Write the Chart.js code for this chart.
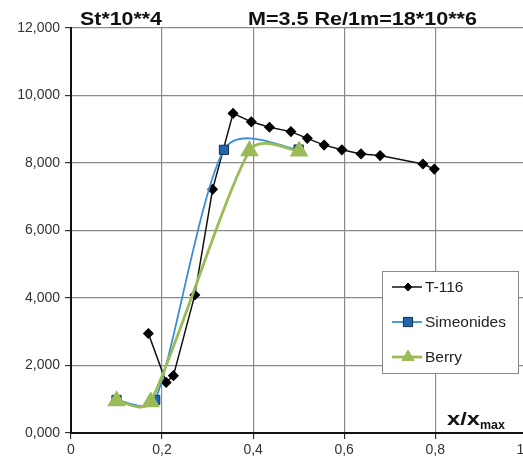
<!DOCTYPE html>
<html>
<head>
<meta charset="utf-8">
<script src="https://cdn.jsdelivr.net/npm/chart.js@4.4.1/dist/chart.umd.min.js"></script>
<style>
  html, body { margin: 0; padding: 0; background: #fff; overflow: hidden; }
  canvas { display: block; }
</style>
</head>
<body>
<canvas id="chart" width="539" height="459"></canvas>
<script>
// Données (St*10**4 en fonction de x/xmax)
const t116X = [0.170, 0.209, 0.225, 0.272, 0.311, 0.356, 0.396, 0.436, 0.483, 0.519, 0.556, 0.595, 0.637, 0.679, 0.773, 0.798];
const t116Y = [2.95, 1.50, 1.70, 4.09, 7.22, 9.47, 9.22, 9.06, 8.93, 8.73, 8.53, 8.39, 8.27, 8.22, 7.97, 7.82];

const simeonidesX = [0.100, 0.185, 0.336, 0.500];
const simeonidesY = [0.98, 0.98, 8.39, 8.40];

const berryX = [0.100, 0.175, 0.392, 0.501];
const berryY = [0.95, 0.92, 8.36, 8.35];

const seriesNames = ['T-116', 'Simeonides', 'Berry'];
const titleLeft = 'St*10**4';
const titleRight = 'M=3.5 Re/1m=18*10**6';

const FONT = "'Liberation Sans', Arial, sans-serif";
Chart.defaults.font.family = FONT;
Chart.defaults.color = '#333';

const toPoints = (xs, ys) => xs.map((x, i) => ({ x: x, y: ys[i] }));

// texte étiré horizontalement pour tenir dans une largeur donnée
function fitText(ctx, text, x, y, width) {
    const w = ctx.measureText(text).width;
    ctx.save();
    ctx.translate(x, y);
    ctx.scale(width / w, 1);
    ctx.fillText(text, 0, 0);
    ctx.restore();
}

// Lissage façon Excel : tangente (suivant - précédent)/6,
// bras limité à 0.4 x la longueur du segment voisin
const excelSmooth = {
    id: 'excelSmooth',
    beforeDatasetDraw(chart, args) {
        const meta = args.meta;
        const ds = chart.data.datasets[args.index];
        if (!ds.excelSmooth) return;
        const pts = meta.data;
        const dist = (a, b) => Math.hypot(b.x - a.x, b.y - a.y);
        pts.forEach((p, i) => {
            const prev = pts[i - 1] || p;
            const next = pts[i + 1] || p;
            const tx = (next.x - prev.x) / 6;
            const ty = (next.y - prev.y) / 6;
            const len = Math.hypot(tx, ty) || 1;
            const kIn = Math.min(1, 0.4 * dist(prev, p) / len);
            const kOut = Math.min(1, 0.4 * dist(p, next) / len);
            p.cp1x = p.x - tx * kIn;
            p.cp1y = p.y - ty * kIn;
            p.cp2x = p.x + tx * kOut;
            p.cp2y = p.y + ty * kOut;
        });
        meta.dataset._pointsUpdated = true;
    }
};

// Textes et légende dessinés à la main
const annotations = {
    id: 'annotations',
    afterDraw(chart) {
        const ctx = chart.ctx;
        ctx.save();
        ctx.fillStyle = '#111';
        ctx.textBaseline = 'alphabetic';
        ctx.textAlign = 'left';
        ctx.font = 'bold 18px ' + FONT;
        fitText(ctx, titleLeft, 80, 25, 82);
        fitText(ctx, titleRight, 248, 25, 229);

        // x/xmax
        ctx.font = 'bold 19px ' + FONT;
        fitText(ctx, 'x/x', 447, 425, 33);
        ctx.font = 'bold 13px ' + FONT;
        fitText(ctx, 'max', 480, 429, 25);

        // légende
        const box = { x: 382, y: 271, w: 136, h: 102 };
        ctx.fillStyle = '#fff';
        ctx.fillRect(box.x, box.y, box.w, box.h);
        ctx.strokeStyle = '#8a8a8a';
        ctx.lineWidth = 1;
        ctx.strokeRect(box.x + 0.5, box.y + 0.5, box.w, box.h);
        const rows = [287, 322, 357];
        chart.data.datasets.forEach((ds, i) => {
            const y = rows[i];
            ctx.strokeStyle = ds.borderColor;
            ctx.lineWidth = ds.borderWidth;
            ctx.beginPath();
            ctx.moveTo(392, y);
            ctx.lineTo(422, y);
            ctx.stroke();
            ctx.fillStyle = ds.pointBackgroundColor;
            ctx.strokeStyle = ds.pointBorderColor;
            ctx.lineWidth = 1;
            Chart.helpers.drawPoint(ctx, {
                pointStyle: ds.pointStyle,
                radius: ds.legendRadius,
                rotation: 0,
                borderWidth: 1
            }, 408, y);
            ctx.fillStyle = '#222';
            ctx.font = '15.5px ' + FONT;
            ctx.textBaseline = 'middle';
            ctx.fillText(ds.label, 425, y + 1);
        });
        ctx.restore();
    }
};

new Chart(document.getElementById('chart'), {
    type: 'line',
    data: {
        datasets: [
            {
                label: seriesNames[0],
                data: toPoints(t116X, t116Y),
                borderColor: '#111',
                borderWidth: 1.5,
                pointStyle: 'rectRot',
                pointRadius: 4.5,
                legendRadius: 4,
                pointBackgroundColor: '#000',
                pointBorderColor: '#000',
                tension: 0,
                order: 3
            },
            {
                label: seriesNames[1],
                data: toPoints(simeonidesX, simeonidesY),
                borderColor: '#3b8fd4',
                borderWidth: 1.8,
                pointStyle: 'rect',
                pointRadius: 6.5,
                legendRadius: 6.5,
                pointBackgroundColor: '#1f66ad',
                pointBorderColor: '#10304f',
                pointBorderWidth: 1,
                tension: 0.4,
                excelSmooth: true,
                order: 2
            },
            {
                label: seriesNames[2],
                data: toPoints(berryX, berryY),
                borderColor: '#9bbb59',
                borderWidth: 2.8,
                pointStyle: 'triangle',
                pointRadius: 8,
                legendRadius: 7,
                pointBackgroundColor: '#9bbb59',
                pointBorderColor: '#9bbb59',
                tension: 0.4,
                excelSmooth: true,
                order: 1
            }
        ]
    },
    options: {
        responsive: false,
        animation: false,
        layout: {
            padding: { top: 28, right: 0, left: 0, bottom: 0 }
        },
        plugins: {
            legend: { display: false },
            tooltip: { enabled: false }
        },
        scales: {
            x: {
                type: 'linear',
                min: 0,
                max: 1,
                afterFit(scale) { scale.height = 26; },
                ticks: {
                    stepSize: 0.2,
                    padding: 3,
                    color: '#333',
                    font: { size: 14 },
                    callback: v => v === 0 ? '0' : v.toFixed(1).replace('.', ',')
                },
                grid: { color: '#8a8a8a', lineWidth: 1.2, tickLength: 6, tickColor: '#333' },
                border: { color: '#111', width: 2 }
            },
            y: {
                min: 0,
                max: 12,
                afterFit(scale) { scale.width = 71; },
                ticks: {
                    stepSize: 2,
                    padding: 5,
                    color: '#333',
                    font: { size: 14 },
                    callback: v => v.toFixed(3).replace('.', ',')
                },
                grid: { color: '#8a8a8a', lineWidth: 1.2, tickLength: 6, tickColor: '#333' },
                border: { color: '#111', width: 2 }
            }
        }
    },
    plugins: [excelSmooth, annotations]
});
</script>
</body>
</html>
